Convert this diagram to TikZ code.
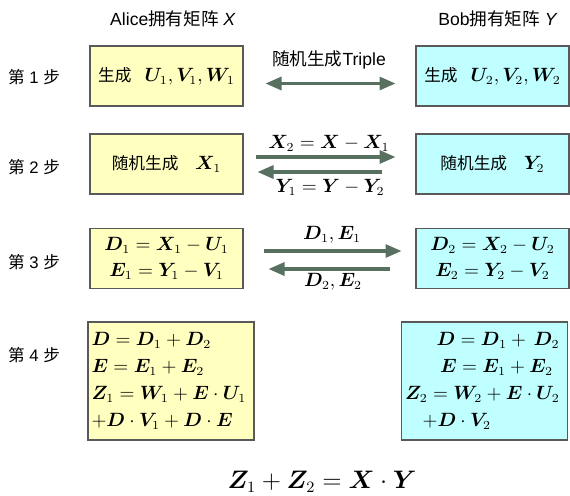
\documentclass[tikz,border=0pt]{standalone}
\usepackage{amsmath,amssymb,bm}
\usepackage[no-math]{fontspec}
\setmainfont{Liberation Sans}
\newfontfamily\cjk{Noto Sans CJK SC}
\usepackage{xcolor}
\usepackage{tikz}
\usetikzlibrary{arrows.meta}
\definecolor{alicefill}{RGB}{255,255,192}
\definecolor{bobfill}{RGB}{192,255,255}
\definecolor{pipegreen}{RGB}{88,112,96}

\begin{document}
\begin{tikzpicture}[x=0.02cm,y=-0.02cm,
  >={Triangle[length=0.32cm,width=0.26cm]},
  partybox/.style={draw=gray!70!black,line width=0.6pt,minimum width=3.06cm,
    minimum height=1.2cm,inner sep=2pt,align=center,
    font=\fontsize{10.5}{14.7}\selectfont},
  alicebox/.style={partybox,fill=alicefill},
  bobbox/.style={partybox,fill=bobfill},
  bigbox/.style={minimum width=3.32cm,minimum height=2.36cm,text width=3.18cm,
    align=left,font=\fontsize{10.5}{15.3}\selectfont},
  steplabel/.style={font=\fontsize{9.5}{11}\selectfont},
  msg/.style={font=\fontsize{10.5}{12}\selectfont},
  flow/.style={pipegreen,line width=1.8pt}]
  \useasboundingbox (0,0) rectangle (570,495);
  % who holds what
  \node (alice) at (173,19) {\fontsize{10}{12}\selectfont Alice{\cjk 拥有矩阵} \textit{X}};
  \node (bob) at (498,19) {\fontsize{10}{12}\selectfont Bob{\cjk 拥有矩阵} \textit{Y}};
  % steps
  \node[steplabel] (s1) at (34,77) {{\cjk 第} 1 {\cjk 步}};
  \node[steplabel] (s2) at (34,167) {{\cjk 第} 2 {\cjk 步}};
  \node[steplabel] (s3) at (34,262) {{\cjk 第} 3 {\cjk 步}};
  \node[steplabel] (s4) at (34,355) {{\cjk 第} 4 {\cjk 步}};
  % step 1
  \node[alicebox] (a1) at (166.5,76) {{\cjk\fontsize{9.5}{11}\selectfont 生成}\hspace{0.7em}$\bm{U}_1, \bm{V}_1, \bm{W}_1$};
  \node[bobbox] (b1) at (492.5,76) {{\cjk\fontsize{9.5}{11}\selectfont 生成}\hspace{0.7em}$\bm{U}_2, \bm{V}_2, \bm{W}_2$};
  \draw[flow,<->] ([xshift=0.44cm,yshift=-0.15cm]a1.east) -- ([xshift=-0.4cm,yshift=-0.15cm]b1.west);
  \node[font=\fontsize{10}{12}\selectfont] (trip) at (329,60) {{\cjk 随机生成}Triple};
  % step 2
  \node[alicebox] (a2) at (166.5,164) {{\cjk\fontsize{9.5}{11}\selectfont 随机生成}\hspace{0.9em}$\bm{X}_1$};
  \node[bobbox] (b2) at (492.5,164) {{\cjk\fontsize{9.5}{11}\selectfont 随机生成}\hspace{0.9em}$\bm{Y}_2$};
  \draw[flow,->] ([xshift=0.24cm,yshift=0.14cm]a2.east) -- ([xshift=-0.4cm,yshift=0.14cm]b2.west);
  \draw[flow,->] ([xshift=-0.68cm,yshift=-0.16cm]b2.west) -- ([xshift=0.28cm,yshift=-0.16cm]a2.east);
  \node[msg] (m2r) at (329,143) {$\bm{X}_2 = \bm{X} - \bm{X}_1$};
  \node[msg] (m2l) at (330,187) {$\bm{Y}_1 = \bm{Y} - \bm{Y}_2$};
  % step 3
  \node[alicebox] (a3) at (166.5,258.5) {$\bm{D}_1 = \bm{X}_1 - \bm{U}_1$\\$\bm{E}_1 = \bm{Y}_1 - \bm{V}_1$};
  \node[bobbox] (b3) at (492.5,258.5) {$\bm{D}_2 = \bm{X}_2 - \bm{U}_2$\\$\bm{E}_2 = \bm{Y}_2 - \bm{V}_2$};
  \draw[flow,->] ([xshift=0.4cm,yshift=0.15cm]a3.east) -- ([xshift=-0.28cm,yshift=0.15cm]b3.west);
  \draw[flow,->] ([xshift=-0.52cm,yshift=-0.21cm]b3.west) -- ([xshift=0.5cm,yshift=-0.21cm]a3.east);
  \node[msg] (m3r) at (332,235) {$\bm{D}_1, \bm{E}_1$};
  \node[msg] (m3l) at (333,282) {$\bm{D}_2, \bm{E}_2$};
  % step 4
  \node[alicebox,bigbox] (a4) at (171,381) {$\bm{D} = \bm{D}_1 + \bm{D}_2$\\$\bm{E} = \bm{E}_1 + \bm{E}_2$\\
    $\bm{Z}_1 = \bm{W}_1 + \bm{E} \cdot \bm{U}_1$\\$+\bm{D} \cdot \bm{V}_1 + \bm{D} \cdot \bm{E}$};
  \node[bobbox,bigbox] (b4) at (484.5,381) {\hspace*{18pt}$\bm{D} = \bm{D}_1 +\, \bm{D}_2$\\
    \hspace*{20pt}$\bm{E} = \bm{E}_1 + \bm{E}_2$\\$\bm{Z}_2 = \bm{W}_2 + \bm{E} \cdot \bm{U}_2$\\
    \hspace*{10pt}$+\bm{D} \cdot \bm{V}_2$};
  \node[font=\fontsize{13.5}{16}\selectfont] (res) at (322,482) {$\bm{Z}_1 + \bm{Z}_2 = \bm{X} \cdot \bm{Y}$};
\end{tikzpicture}
\end{document}
